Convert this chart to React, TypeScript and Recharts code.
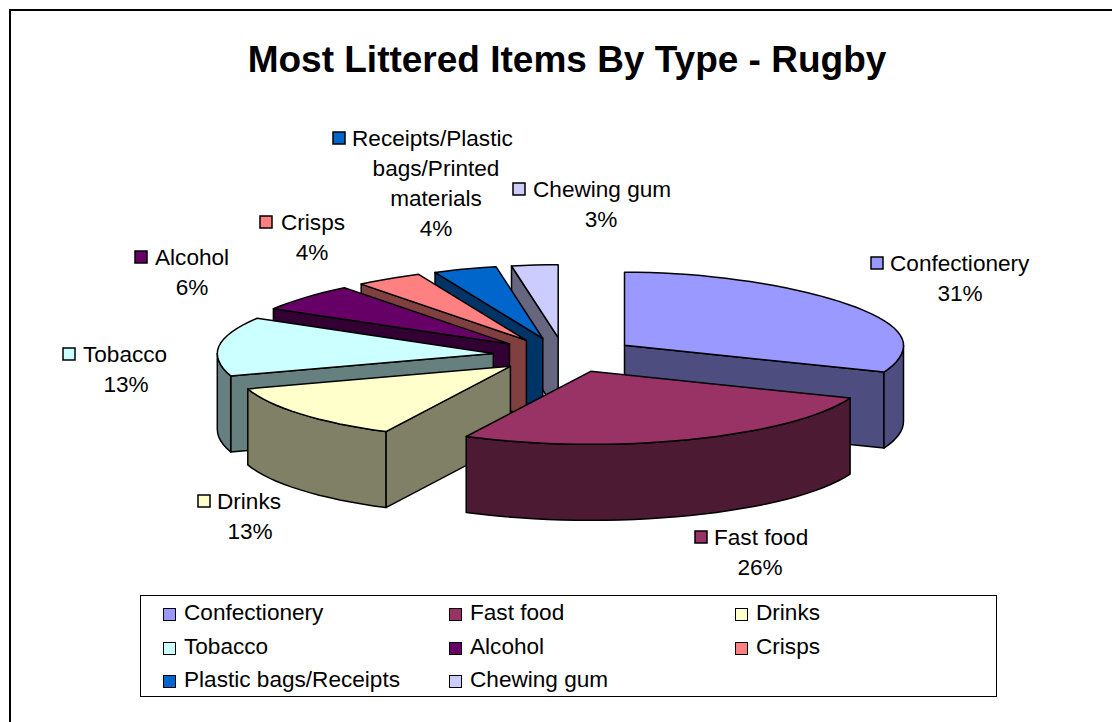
import React from "react";
import { PieChart, Pie, Legend } from "recharts";

const CATEGORIES = ["Confectionery", "Fast food", "Drinks", "Tobacco", "Alcohol", "Crisps", "Plastic bags/Receipts", "Chewing gum"];
const VALUES = [31, 26.4, 12.6, 13, 6, 4, 4, 3];
const LABEL_LINES = [
    ["Confectionery"],
    ["Fast food"],
    ["Drinks"],
    ["Tobacco"],
    ["Alcohol"],
    ["Crisps"],
    ["Receipts/Plastic", "bags/Printed", "materials"],
    ["Chewing gum"],
];
const TOP_COLORS = ["#9999FF", "#993366", "#FFFFCC", "#CCFFFF", "#660066", "#FF8080", "#0066CC", "#CCCCFF"];
const SIDE_COLORS = ["#4D4D80", "#4D1A33", "#808066", "#668080", "#330033", "#804040", "#003366", "#666680"];

// slices are painted in this order so nearer ones cover the ones behind
const PAINT_ORDER = [0, 7, 6, 5, 4, 3, 2, 1];

// swatch x, first line text x, block centre x, first line centre y
const LABEL_LAYOUT = [
    [871, 890, 960, 263],
    [695, 714, 760, 537],
    [198, 217, 250, 501],
    [63, 83, 126, 354],
    [135, 155, 192, 257],
    [260, 281, 312, 222],
    [333, 352, 436, 138],
    [513, 533, 601, 189],
];

const FONT = "'Liberation Sans', Arial, sans-serif";
const CX = 565;
const CY = 355;
const RY = 73;
const DEPTH = 76;
const EXPLODE_X = 72;
const EXPLODE_Y = 17.4;

const total = VALUES.reduce((a, b) => a + b, 0);
const pieData = PAINT_ORDER.map((i) => ({ name: CATEGORIES[i], value: VALUES[i], index: i }));
const firstEnd = 90 - (VALUES[0] / total) * 360;

const rad = (deg: number) => (deg * Math.PI) / 180;

// a = clockwise degrees from 12 o'clock; back of the disc is narrower
const rimPoint = (a: number, ox: number, oy: number) => {
    const c = Math.cos(rad(a));
    const s = Math.sin(rad(a));
    const rx = 279 - 30 * Math.max(c, 0) ** 2 - 3 * Math.max(-s, 0);
    return [ox + rx * s, oy - RY * c];
};

const toPath = (pts: number[][]) =>
    pts.map((p, i) => `${i ? "L" : "M"}${p[0].toFixed(1)},${p[1].toFixed(1)}`).join(" ") + " Z";

const arc = (from: number, to: number, ox: number, oy: number) => {
    const pts: number[][] = [];
    const steps = Math.max(2, Math.ceil((to - from) / 3));
    for (let i = 0; i <= steps; i++) pts.push(rimPoint(from + ((to - from) * i) / steps, ox, oy));
    return pts;
};

const down = (pts: number[][]) => pts.map((p) => [p[0], p[1] + DEPTH]);

const Slice3D = (props: any) => {
    const a0 = 90 - props.endAngle;
    const a1 = 90 - props.startAngle;
    const norm = a0 < 0 ? 360 : 0;
    const from = a0 + norm;
    const to = a1 + norm;
    const mid = (from + to) / 2;
    const ox = props.cx + EXPLODE_X * Math.sin(rad(mid));
    const oy = props.cy - EXPLODE_Y * Math.cos(rad(mid));
    const i = props.payload?.index ?? props.index;
    const stroke = { stroke: "#000", strokeWidth: 1.5, strokeLinejoin: "round" as const };
    const side = SIDE_COLORS[i];
    const apex = [ox, oy];
    const faces: string[] = [];

    if (from >= 180) {
        const top = [apex, rimPoint(from, ox, oy)];
        faces.push(toPath([...top, ...down(top).reverse()]));
    }
    if (to <= 180) {
        const top = [apex, rimPoint(to, ox, oy)];
        faces.push(toPath([...top, ...down(top).reverse()]));
    }
    const rimFrom = Math.max(from, 90);
    const rimTo = Math.min(to, 270);
    if (rimTo > rimFrom) {
        const top = arc(rimFrom, rimTo, ox, oy);
        faces.push(toPath([...top, ...down(top).reverse()]));
    }

    return (
        <g>
            {faces.map((d, k) => (
                <path key={k} d={d} fill={side} {...stroke} />
            ))}
            <path d={toPath([apex, ...arc(from, to, ox, oy)])} fill={TOP_COLORS[i]} {...stroke} />
        </g>
    );
};

const SliceLabel = (props: any) => {
    const i = props.payload?.index ?? props.index;
    const [swatchX, textX, centreX, y] = LABEL_LAYOUT[i];
    const lines = LABEL_LINES[i];
    return (
        <g fontFamily={FONT} fontSize={22.6} fill="#000">
            <rect x={swatchX} y={y - 6} width={12} height={12} fill={TOP_COLORS[i]} stroke="#000" strokeWidth={1.5} />
            <text x={textX} y={y + 8}>{lines[0]}</text>
            {lines.slice(1).map((line, k) => (
                <text key={line} x={centreX} y={y + 8 + 30 * (k + 1)} textAnchor="middle">{line}</text>
            ))}
            <text x={centreX} y={y + 8 + 30 * lines.length} textAnchor="middle">{Math.round(VALUES[i])}%</text>
        </g>
    );
};

const LegendBox = () => (
    <div
        style={{
            position: "absolute",
            left: 140,
            top: 595,
            width: 857,
            height: 102,
            border: "1px solid #000",
            boxSizing: "border-box",
            fontFamily: FONT,
            fontSize: 22.6,
            color: "#000",
        }}
    >
        {CATEGORIES.map((name, i) => (
            <div
                key={name}
                style={{
                    position: "absolute",
                    left: 22 + (i % 3) * 286,
                    top: Math.floor(i / 3) * 33.5,
                    height: 33,
                    lineHeight: "33px",
                    whiteSpace: "nowrap",
                }}
            >
                <span
                    style={{
                        display: "inline-block",
                        width: 13,
                        height: 13,
                        marginRight: 8,
                        background: TOP_COLORS[i],
                        border: "1.5px solid #000",
                        boxSizing: "border-box",
                        verticalAlign: "-1px",
                    }}
                />
                {name}
            </div>
        ))}
    </div>
);

export default function App() {
    return (
        <div style={{ position: "absolute", left: 0, top: 0, width: 1112, height: 722, background: "#fff", overflow: "hidden" }}>
            <PieChart width={1112} height={722} margin={{ top: 0, right: 0, bottom: 0, left: 0 }}>
                <rect x={10} y={10} width={1200} height={800} fill="#fff" stroke="#000" strokeWidth={2} />
                <text x={567} y={72} textAnchor="middle" fontFamily={FONT} fontWeight="bold" fontSize={37} fill="#000">
                    Most Littered Items By Type - Rugby
                </text>
                <Pie
                    data={pieData}
                    dataKey="value"
                    nameKey="name"
                    cx={CX}
                    cy={CY}
                    outerRadius={RY}
                    startAngle={firstEnd}
                    endAngle={firstEnd + 360}
                    shape={Slice3D}
                    label={SliceLabel}
                    labelLine={false}
                    isAnimationActive={false}
                />
                <Legend
                    content={LegendBox}
                    wrapperStyle={{ position: "absolute", left: 0, top: 0, bottom: "auto", width: 0, height: 0 }}
                />
            </PieChart>
        </div>
    );
}
